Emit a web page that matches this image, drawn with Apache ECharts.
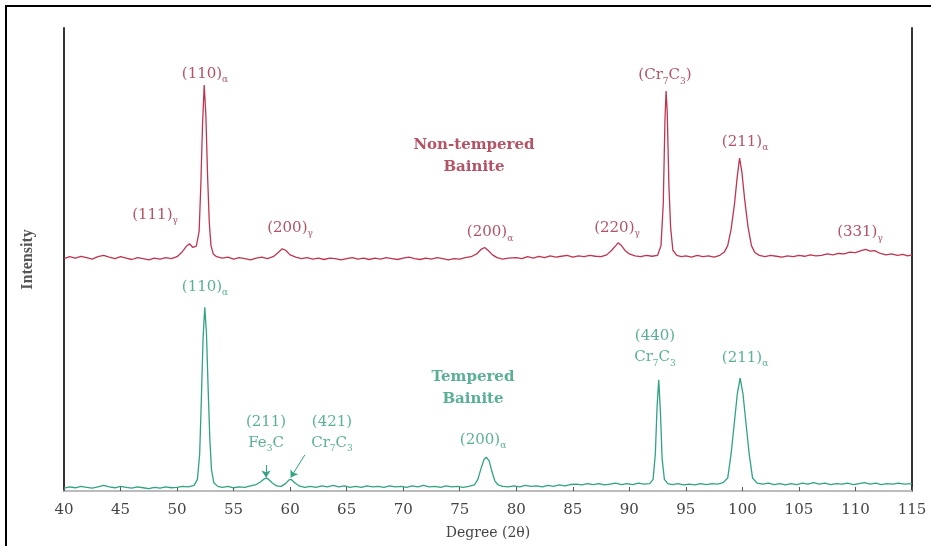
<!DOCTYPE html>
<html>
<head>
<meta charset="utf-8">
<title>XRD patterns of bainite</title>
<script src="https://cdn.jsdelivr.net/npm/echarts@6/dist/echarts.min.js"></script>
<style>
  html, body { margin: 0; padding: 0; background: #fff; }
  #chart { width: 931px; height: 546px; }
</style>
</head>
<body>
<div id="chart"></div>
<script>
// 2θ axis ticks
const degreeTicks = [40, 45, 50, 55, 60, 65, 70, 75, 80, 85, 90, 95, 100, 105, 110, 115];

// Non-tempered bainite pattern, [2θ, intensity (a.u., offset)]
const nonTempered = [
  [40,50.2],[40.5,50.6],[41,50.3],[41.5,50.7],[42,50.4],[42.5,50.1],[43,50.6],[43.5,50.9],[44,50.5],[44.5,50.2],
  [45,50.6],[45.5,50.3],[46,50.0],[46.5,50.4],[47,50.2],[47.5,49.9],[48,50.3],[48.5,50.1],[49,50.4],[49.5,50.2],
  [50,50.6],[50.4,51.5],[50.8,52.8],[51.1,53.4],[51.4,52.6],[51.7,52.9],[51.95,56],[52.1,66],[52.25,79],[52.4,87.7],
  [52.55,81],[52.7,68],[52.85,58],[53.0,53],[53.2,51.2],[53.5,50.6],[54,50.3],[54.5,50.5],[55,50.1],[55.5,50.4],
  [56,50.2],[56.5,49.9],[57,50.3],[57.5,50.5],[58,50.2],[58.5,50.6],[58.9,51.4],[59.3,52.3],[59.6,52.0],[60.0,51.0],
  [60.5,50.5],[61,50.2],[61.5,50.4],[62,50.1],[62.5,50.3],[63,50.0],[63.5,50.3],[64,50.2],[64.5,49.9],[65,50.2],
  [65.5,50.4],[66,50.1],[66.5,50.3],[67,50.0],[67.5,50.3],[68,50.1],[68.5,50.4],[69,50.2],[69.5,50.0],[70,50.3],
  [70.5,50.5],[71,50.2],[71.5,50.0],[72,50.3],[72.5,50.1],[73,50.4],[73.5,50.2],[74,49.9],[74.5,50.2],[75,50.1],
  [75.5,50.4],[76,50.6],[76.5,51.2],[76.9,52.2],[77.2,52.6],[77.5,52.0],[77.9,51.0],[78.3,50.4],[78.8,50.1],[79.3,50.3],
  [80,50.4],[80.5,50.2],[81,50.6],[81.5,50.3],[82,50.7],[82.5,50.4],[83,50.8],[83.5,50.5],[84,50.7],[84.5,50.9],
  [85,50.5],[85.5,50.8],[86,50.6],[86.5,50.9],[87,50.7],[87.5,50.6],[88,51.0],[88.4,51.9],[88.8,53.0],[89.0,53.6],
  [89.3,53.0],[89.6,52.0],[90,51.2],[90.5,50.8],[91,50.6],[91.5,50.9],[92,50.7],[92.5,50.9],[92.8,53],[93.0,62],
  [93.15,80],[93.25,86.4],[93.35,82],[93.5,66],[93.65,57],[93.85,52],[94.2,50.9],[94.6,50.6],[95,50.8],[95.5,50.5],
  [96,50.9],[96.5,50.6],[97,50.8],[97.5,50.5],[98,50.9],[98.4,51.6],[98.7,53],[99.0,56.5],[99.3,62],[99.55,68],
  [99.75,71.9],[99.95,69],[100.2,63],[100.5,57],[100.8,53],[101.1,51.5],[101.5,50.9],[102,50.6],[102.5,50.9],[103,50.7],
  [103.5,50.5],[104,50.8],[104.5,50.6],[105,50.9],[105.5,50.7],[106,51.0],[106.5,50.8],[107,50.9],[107.5,51.2],[108,51.0],
  [108.5,51.3],[109,51.2],[109.5,51.6],[110,51.5],[110.5,51.9],[110.9,52.2],[111.3,51.8],[111.7,51.9],[112.2,51.3],[112.7,51.0],
  [113.2,51.2],[113.7,50.9],[114.2,51.1],[114.6,50.8],[115,51.0]
];

// Tempered bainite pattern, [2θ, intensity (a.u.)]
const tempered = [
  [40,0.6],[40.5,0.9],[41,0.7],[41.5,1.0],[42,0.8],[42.5,0.6],[43,0.9],[43.5,1.2],[44,0.9],[44.5,0.7],
  [45,1.0],[45.5,0.8],[46,0.6],[46.5,0.9],[47,0.7],[47.5,0.5],[48,0.8],[48.5,0.6],[49,0.9],[49.5,0.7],
  [50,0.8],[50.5,1.0],[51,0.9],[51.5,1.2],[51.8,2.5],[52.0,8],[52.15,20],[52.3,33],[52.45,39.7],[52.6,34],
  [52.75,22],[52.9,11],[53.05,4.5],[53.25,1.8],[53.6,1.0],[54,0.8],[54.5,1.0],[55,0.7],[55.5,0.9],[56,0.8],
  [56.5,1.1],[57,1.4],[57.4,2.0],[57.7,2.6],[57.9,2.8],[58.1,2.5],[58.4,1.8],[58.8,1.1],[59.2,1.0],[59.6,1.6],
  [59.9,2.4],[60.1,2.5],[60.4,1.8],[60.8,1.1],[61.3,0.8],[61.8,1.0],[62.3,0.8],[62.8,1.1],[63.3,0.9],[63.8,1.2],
  [64.3,0.9],[64.8,1.1],[65.3,0.8],[65.8,1.0],[66.3,0.8],[66.8,1.1],[67.3,0.9],[67.8,1.0],[68.3,0.8],[68.8,1.1],
  [69.3,0.9],[69.8,1.0],[70.3,0.8],[70.8,1.1],[71.3,0.9],[71.8,1.2],[72.3,0.9],[72.8,1.0],[73.3,0.8],[73.8,1.1],
  [74.3,0.9],[74.8,1.0],[75.3,0.8],[75.8,1.0],[76.3,1.3],[76.6,2.5],[76.9,5.0],[77.15,6.8],[77.35,7.3],[77.6,6.5],
  [77.85,4.2],[78.1,2.2],[78.4,1.3],[78.8,1.0],[79.3,0.9],[79.8,1.1],[80.3,0.9],[80.8,1.2],[81.3,1.0],[81.8,1.1],
  [82.3,0.9],[82.8,1.2],[83.3,1.0],[83.8,1.3],[84.3,1.1],[84.8,1.4],[85.3,1.5],[85.8,1.3],[86.3,1.6],[86.8,1.4],
  [87.3,1.6],[87.8,1.3],[88.3,1.5],[88.8,1.7],[89.3,1.4],[89.8,1.6],[90.3,1.4],[90.8,1.7],[91.3,1.5],[91.8,1.6],
  [92.1,2.5],[92.3,8],[92.45,18],[92.6,24.0],[92.75,17],[92.9,7],[93.1,2.5],[93.4,1.6],[93.8,1.4],[94.3,1.6],
  [94.8,1.3],[95.3,1.5],[95.8,1.3],[96.3,1.6],[96.8,1.4],[97.3,1.6],[97.8,1.5],[98.3,1.8],[98.7,2.8],[99.0,8],
  [99.3,15],[99.55,21],[99.8,24.4],[100.05,21],[100.3,15],[100.6,8],[100.9,2.8],[101.3,1.7],[101.8,1.5],[102.3,1.7],
  [102.8,1.4],[103.3,1.6],[103.8,1.3],[104.3,1.6],[104.8,1.4],[105.3,1.7],[105.8,1.5],[106.3,1.8],[106.8,1.5],[107.3,1.7],
  [107.8,1.4],[108.3,1.6],[108.8,1.5],[109.3,1.7],[109.8,1.4],[110.3,1.6],[110.8,1.8],[111.3,1.5],[111.8,1.7],[112.3,1.4],
  [112.8,1.6],[113.3,1.5],[113.8,1.7],[114.3,1.5],[115,1.6]
];

// Reflection labels: [2θ, intensity, text] ({s|...} marks a subscript)
const nonTemperedLabels = [
  [52.47, 90.1, '(110){s|α}'],
  [48.05, 59.6, '(111){s|γ}'],
  [59.99, 56.8, '(200){s|γ}'],
  [77.68, 55.9, '(200){s|α}'],
  [88.91, 56.8, '(220){s|γ}'],
  [93.15, 89.8, '(Cr{s|7}C{s|3})'],
  [100.23, 75.4, '(211){s|α}'],
  [110.40, 55.9, '(331){s|γ}']
];
const temperedLabels = [
  [52.47, 44.1, '(110){s|α}'],
  [57.87, 12.7, '(211)\nFe{s|3}C'],
  [63.70, 12.7, '(421)\nCr{s|7}C{s|3}'],
  [77.06, 11.0, '(200){s|α}'],
  [92.27, 31.1, '(440)\nCr{s|7}C{s|3}'],
  [100.23, 28.7, '(211){s|α}']
];
// Sample names: [2θ, intensity, text, trace]
const sampleNames = [
  [76.26, 72.4, 'Non-tempered\nBainite', 'red'],
  [76.17, 22.2, 'Tempered\nBainite', 'green']
];
// Pointer arrows to the weak carbide reflections: [from, to]
const pointerArrows = [
  [[57.87, 5.6], [57.87, 2.9]],
  [[61.30, 7.8], [60.05, 2.9]]
];

const RED = '#bf3550';
const RED_TEXT = '#a1283e';
const GREEN = '#2fa383';
const GREEN_TEXT = '#2f9c7c';
const SERIF = '"DejaVu Serif", "Liberation Serif", serif';
const TIMES = '"Liberation Serif", serif';

function labelSeries(items, color) {
  return {
    type: 'scatter',
    silent: true,
    symbol: 'circle',
    symbolSize: 1,
    itemStyle: { color: 'rgba(0,0,0,0)' },
    data: items.map(d => ({ value: [d[0], d[1]], name: d[2] })),
    label: {
      show: true,
      position: 'inside',
      formatter: p => p.name,
      color: color,
      fontFamily: SERIF,
      fontSize: 15,
      lineHeight: 21,
      align: 'center',
      rich: {
        s: { fontSize: 9, fontFamily: SERIF, color: color, verticalAlign: 'bottom', lineHeight: 21 }
      }
    },
    emphasis: { disabled: true },
    z: 5
  };
}

const chart = echarts.init(document.getElementById('chart'), null, { renderer: 'canvas' });

chart.setOption({
  animation: false,
  backgroundColor: '#ffffff',
  grid: { left: 64, right: 19, top: 28, bottom: 55 },
  xAxis: [
    {
      type: 'value',
      min: degreeTicks[0],
      max: degreeTicks[degreeTicks.length - 1],
      interval: 5,
      name: 'Degree (2θ)',
      nameLocation: 'middle',
      nameGap: 35,
      nameTextStyle: { fontFamily: SERIF, fontSize: 14, color: '#444' },
      axisLine: { lineStyle: { color: '#8a8a8a', width: 1.5 } },
      axisTick: { inside: true, length: 4, lineStyle: { color: '#555' } },
      axisLabel: { fontFamily: SERIF, fontSize: 15, color: '#444', margin: 12 },
      splitLine: { show: false }
    },
    {
      type: 'value',
      position: 'top',
      min: 40, max: 115,
      axisLine: { show: true, lineStyle: { color: '#c4c4c4', width: 1.5 } },
      axisTick: { show: false },
      axisLabel: { show: false },
      splitLine: { show: false }
    }
  ],
  yAxis: [
    {
      type: 'value',
      min: 0, max: 100,
      name: 'Intensity',
      nameLocation: 'middle',
      nameGap: 28,
      nameRotate: 90,
      nameTextStyle: { fontFamily: TIMES, fontSize: 16, fontWeight: 'bold', color: '#555' },
      axisLine: { show: true, lineStyle: { color: '#333', width: 2 } },
      axisTick: { show: false },
      axisLabel: { show: false },
      splitLine: { show: false }
    },
    {
      type: 'value',
      position: 'right',
      min: 0, max: 100,
      axisLine: { show: true, lineStyle: { color: '#333', width: 2 } },
      axisTick: { show: false },
      axisLabel: { show: false },
      splitLine: { show: false }
    }
  ],
  series: [
    {
      name: 'Non-tempered Bainite',
      type: 'line',
      data: nonTempered,
      showSymbol: false,
      lineStyle: { color: RED, width: 1.3 },
      silent: true,
      z: 3
    },
    {
      name: 'Tempered Bainite',
      type: 'line',
      data: tempered,
      showSymbol: false,
      lineStyle: { color: GREEN, width: 1.3 },
      silent: true,
      z: 3,
      markLine: {
        silent: true,
        symbol: ['none', 'arrow'],
        symbolSize: 7,
        label: { show: false },
        lineStyle: { color: GREEN, width: 1, type: 'solid' },
        data: pointerArrows.map(a => [{ coord: a[0] }, { coord: a[1] }])
      }
    },
    labelSeries(nonTemperedLabels, RED_TEXT),
    labelSeries(temperedLabels, GREEN_TEXT),
    {
      type: 'scatter',
      silent: true,
      symbolSize: 1,
      itemStyle: { color: 'rgba(0,0,0,0)' },
      data: sampleNames.map(d => ({
        value: [d[0], d[1]],
        name: d[2],
        label: { color: d[3] === 'red' ? RED_TEXT : GREEN_TEXT }
      })),
      label: {
        show: true,
        position: 'inside',
        formatter: p => p.name,
        fontFamily: SERIF,
        fontSize: 15,
        fontWeight: 'bold',
        lineHeight: 22,
        align: 'center'
      },
      emphasis: { disabled: true },
      z: 5
    }
  ],
  graphic: [
    { type: 'line', shape: { x1: 5, y1: 6, x2: 931, y2: 6 }, style: { stroke: '#000', lineWidth: 2 }, silent: true },
    { type: 'line', shape: { x1: 6, y1: 5, x2: 6, y2: 546 }, style: { stroke: '#000', lineWidth: 2 }, silent: true }
  ]
});
</script>
</body>
</html>
